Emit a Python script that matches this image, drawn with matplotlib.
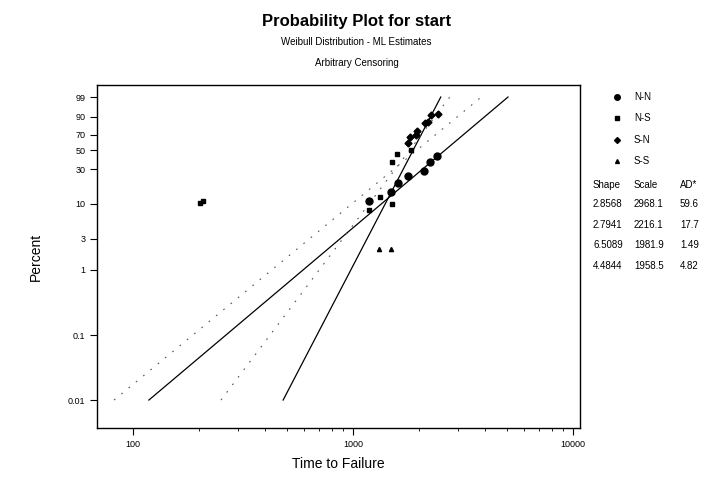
import numpy as np
import matplotlib
matplotlib.use("Agg")
import matplotlib.pyplot as plt
from matplotlib.ticker import FixedLocator, NullFormatter

plt.rcParams['font.family'] = ['Liberation Sans', 'DejaVu Sans']

# group names and fitted Weibull parameters (from the table on the right)
groups = ['N-N', 'N-S', 'S-N', 'S-S']
shapes = [2.8568, 2.7941, 6.5089, 4.4844]
scales = [2968.1, 2216.1, 1981.9, 1958.5]
ad_stats = ['59.6', '17.7', '1.49', '4.82']

# plotted points (time, percent)
nn_time = [1182, 1489, 1602, 1778, 2102, 2239, 2410]
nn_pct = [11.0, 14.8, 19.7, 24.5, 28.5, 37.0, 43.6]
ns_time = [202, 208, 1182, 1327, 1504, 1504, 1585, 1835]
ns_pct = [10.2, 10.8, 8.1, 12.5, 10.0, 37.0, 46.0, 51.0]
sn_time = [1778, 1816, 1934, 1954, 2125, 2192, 2262, 2434]
sn_pct = [60.0, 67.5, 70.0, 75.0, 84.0, 85.0, 91.0, 92.0]
ss_time = [1313, 1489]
ss_pct = [2.1, 2.1]

pct_ticks = [0.01, 0.1, 1, 3, 10, 30, 50, 70, 90, 99]
pct_labels = ['0.01', '0.1', '1', '3', '10', '30', '50', '70', '90', '99']
x_ticks = [100, 1000, 10000]


def wz(p):
    # weibull probability paper: ln(-ln(1-p))
    p = np.asarray(p, dtype=float) / 100.0
    return np.log(-np.log(1.0 - p))


fig = plt.figure(figsize=(7.13, 4.79), dpi=100)
ax = fig.add_axes([0.136, 0.1065, 0.6775, 0.716])

# fitted lines between 0.01 and 99 percent
z_line = wz([0.01, 99])
styles = [dict(ls='-', lw=0.9, color='black'),
          dict(ls=(0, (1.5, 7)), lw=0.8, color='#555555'),
          dict(ls='-', lw=0.9, color='black'),
          dict(ls=(0, (1.5, 7)), lw=0.8, color='#555555')]
for shp, scl, st in zip(shapes, scales, styles):
    t_line = scl * np.exp(z_line / shp)
    ax.plot(t_line, z_line, **st)

ax.plot(nn_time, wz(nn_pct), 'o', color='black', ms=5, ls='none')
ax.plot(ns_time, wz(ns_pct), 's', color='black', ms=2.5, ls='none')
ax.plot(sn_time, wz(sn_pct), 'D', color='black', ms=3.5, ls='none')
ax.plot(ss_time, wz(ss_pct), '^', color='black', ms=3, ls='none')

ax.set_xscale('log')
ax.set_xlim(68.6, 10765)
ax.set_ylim(-10.2, 1.953)
ax.xaxis.set_major_locator(FixedLocator(x_ticks))
ax.set_xticklabels(['100', '1000', '10000'], fontsize=6.5)
ax.xaxis.set_minor_locator(FixedLocator([m * d for d in [100, 1000] for m in range(2, 10)]))
ax.xaxis.set_minor_formatter(NullFormatter())
ax.set_yticks(wz(pct_ticks))
ax.set_yticklabels(pct_labels, fontsize=6.5)
ax.tick_params(axis='both', which='major', length=5, width=0.8, direction='out')
ax.tick_params(axis='x', which='minor', length=2.5, width=0.6, direction='out')
for sp in ax.spines.values():
    sp.set_linewidth(1.0)

ax.set_xlabel('Time to Failure', fontsize=10, labelpad=6)
ax.set_ylabel('Percent', fontsize=10, labelpad=18)

fig.text(0.5, 0.955, 'Probability Plot for start', ha='center', va='center',
         fontsize=12, fontweight='bold')
fig.text(0.5, 0.912, 'Weibull Distribution - ML Estimates', ha='center', va='center', fontsize=7)
fig.text(0.5, 0.868, 'Arbitrary Censoring', ha='center', va='center', fontsize=7)

# legend drawn by hand to the right
markers = [('o', 4), ('s', 2.3), ('D', 3), ('^', 2.8)]
leg_y = [97, 118, 140, 161]
for (mk, ms), name, yy in zip(markers, groups, leg_y):
    fy = 1 - yy / 479
    fig.lines.append(plt.Line2D([617 / 713], [fy], marker=mk, ms=ms, color='black',
                                ls='none', transform=fig.transFigure))
    fig.text(634 / 713, fy, name, fontsize=7, va='center', ha='left')

# parameter table
col_x = [593, 634, 680]
fy = 1 - 185 / 479
for cx, h in zip(col_x, ['Shape', 'Scale', 'AD*']):
    fig.text(cx / 713, fy, h, fontsize=7, va='center', ha='left')
row_y = [204, 225, 245, 266]
for shp, scl, ad, yy in zip(shapes, scales, ad_stats, row_y):
    fy = 1 - yy / 479
    fig.text(col_x[0] / 713, fy, f'{shp:.4f}', fontsize=7, va='center', ha='left')
    fig.text(col_x[1] / 713, fy, f'{scl:.1f}', fontsize=7, va='center', ha='left')
    fig.text(col_x[2] / 713, fy, ad, fontsize=7, va='center', ha='left')

fig.savefig('out.png', dpi=100)
